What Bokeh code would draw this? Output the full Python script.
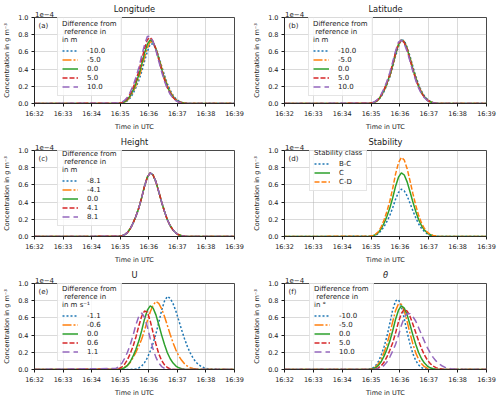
from bokeh.plotting import figure
from bokeh.layouts import gridplot
from bokeh.models import (Legend, LegendItem, Label, FixedTicker, Range1d, PrintfTickFormatter,
                          LinearAxis)
from bokeh.embed import file_html
from bokeh.resources import INLINE

FONT = "DejaVu Sans"

# x axis: minutes after 16:00 UTC
X_TICKS = [32, 33, 34, 35, 36, 37, 38, 39]
X_LABELS = ["16:32", "16:33", "16:34", "16:35", "16:36", "16:37", "16:38", "16:39"]
Y_TICKS = [0.0, 0.2, 0.4, 0.6, 0.8, 1.0]
SCALE_TEXT = "1e−4"

# concentration in 1e-4 g m^-3
TIME_A = [32.0, 34.95, 35.05, 35.15, 35.25, 35.35, 35.45, 35.55, 35.65, 35.75, 35.85,
          35.95, 36.05, 36.15, 36.25, 36.35, 36.45, 36.55, 36.65, 36.75, 36.85,
          36.95, 37.05, 37.15, 37.25, 37.35, 37.45, 39.0]

REF = [0, 0.002, 0.007, 0.02, 0.045, 0.09, 0.155, 0.235, 0.33, 0.45, 0.585, 0.69, 0.74, 0.715,
       0.635, 0.52, 0.40, 0.29, 0.195, 0.125, 0.075, 0.04, 0.02, 0.009, 0.004, 0.001, 0, 0]

LON_M10 = [0, 0.001, 0.004, 0.013, 0.031, 0.064, 0.116, 0.185, 0.267, 0.369, 0.49, 0.603, 0.69,
           0.693, 0.638, 0.546, 0.435, 0.327, 0.23, 0.152, 0.095, 0.055, 0.029, 0.014, 0.006, 0.002, 0, 0]
LON_M5 = [0, 0.001, 0.005, 0.016, 0.038, 0.077, 0.135, 0.21, 0.298, 0.409, 0.537, 0.646, 0.718,
          0.713, 0.637, 0.534, 0.419, 0.309, 0.213, 0.139, 0.085, 0.048, 0.024, 0.012, 0.005, 0.001, 0, 0]
LON_P5 = [0, 0.003, 0.01, 0.027, 0.059, 0.111, 0.182, 0.27, 0.375, 0.504, 0.636, 0.743, 0.768,
          0.723, 0.631, 0.51, 0.388, 0.277, 0.185, 0.117, 0.069, 0.037, 0.018, 0.008, 0.003, 0.001, 0, 0]
LON_P10 = [0, 0.005, 0.014, 0.035, 0.073, 0.131, 0.209, 0.302, 0.416, 0.553, 0.681, 0.778, 0.782,
           0.72, 0.616, 0.491, 0.369, 0.259, 0.171, 0.107, 0.062, 0.032, 0.016, 0.007, 0.002, 0, 0, 0]

LAT_M10 = [0, 0.001, 0.006, 0.017, 0.039, 0.079, 0.139, 0.215, 0.306, 0.42, 0.552, 0.664, 0.738,
           0.733, 0.655, 0.549, 0.43, 0.318, 0.219, 0.143, 0.087, 0.049, 0.025, 0.012, 0.005, 0.001, 0, 0]
LAT_M5 = [0, 0.002, 0.006, 0.019, 0.043, 0.086, 0.149, 0.228, 0.32, 0.437, 0.571, 0.68, 0.74,
          0.722, 0.643, 0.533, 0.412, 0.3, 0.203, 0.131, 0.079, 0.043, 0.022, 0.01, 0.004, 0.001, 0, 0]
LAT_P5 = [0, 0.002, 0.008, 0.022, 0.049, 0.096, 0.162, 0.244, 0.342, 0.465, 0.597, 0.699, 0.74,
          0.708, 0.626, 0.507, 0.388, 0.281, 0.189, 0.12, 0.072, 0.038, 0.019, 0.009, 0.004, 0.001, 0, 0]
LAT_P10 = [0, 0.003, 0.01, 0.026, 0.057, 0.107, 0.175, 0.259, 0.36, 0.484, 0.612, 0.714, 0.738,
           0.695, 0.606, 0.49, 0.373, 0.266, 0.178, 0.112, 0.066, 0.035, 0.017, 0.008, 0.003, 0.001, 0, 0]

HGT = REF

STAB_BC = [0, 0.002, 0.005, 0.015, 0.034, 0.067, 0.115, 0.175, 0.245, 0.334, 0.435, 0.513, 0.55,
           0.531, 0.472, 0.387, 0.298, 0.216, 0.145, 0.093, 0.056, 0.03, 0.015, 0.007, 0.003, 0.001, 0, 0]
STAB_CD = [0, 0.003, 0.008, 0.025, 0.056, 0.112, 0.192, 0.293, 0.41, 0.559, 0.728, 0.857, 0.92,
           0.889, 0.789, 0.647, 0.498, 0.361, 0.243, 0.155, 0.093, 0.05, 0.025, 0.011, 0.005, 0.001, 0, 0]

TIME_E = [32.0, 34.85, 34.95, 35.05, 35.15, 35.25, 35.35, 35.45, 35.55, 35.65, 35.75, 35.85,
          35.95, 36.05, 36.15, 36.25, 36.35, 36.45, 36.55, 36.65, 36.75, 36.85, 36.95,
          37.05, 37.15, 37.25, 37.35, 37.45, 37.55, 37.65, 37.75, 37.85, 37.95, 38.05,
          38.15, 38.25, 39.0]

REF_E = [0, 0, 0.002, 0.007, 0.02, 0.045, 0.09, 0.155, 0.235, 0.33, 0.45, 0.585, 0.69, 0.74, 0.715,
         0.635, 0.52, 0.40, 0.29, 0.195, 0.125, 0.075, 0.04, 0.02, 0.009, 0.004, 0.001, 0,
         0, 0, 0, 0, 0, 0, 0, 0, 0]

U_M11 = [0, 0, 0, 0, 0, 0, 0.001, 0.002, 0.006, 0.018, 0.04, 0.079, 0.137, 0.214, 0.306, 0.415,
         0.548, 0.688, 0.796, 0.85, 0.827, 0.766, 0.677, 0.57, 0.46, 0.358, 0.268, 0.192, 0.132,
         0.086, 0.054, 0.032, 0.018, 0.009, 0.004, 0.002, 0]
U_M06 = [0, 0.002, 0.005, 0.013, 0.027, 0.048, 0.083, 0.138, 0.2, 0.271, 0.352, 0.455, 0.567,
         0.669, 0.747, 0.79, 0.768, 0.706, 0.617, 0.513, 0.408, 0.31, 0.226, 0.158, 0.107, 0.067,
         0.039, 0.021, 0.012, 0.006, 0.002, 0.001, 0, 0, 0, 0, 0]
U_P06 = [0, 0.003, 0.01, 0.027, 0.06, 0.112, 0.184, 0.27, 0.378, 0.506, 0.618, 0.68, 0.667,
         0.565, 0.429, 0.296, 0.182, 0.105, 0.054, 0.023, 0.008, 0.003, 0, 0, 0, 0, 0, 0,
         0, 0, 0, 0, 0, 0, 0, 0, 0]
U_P11 = [0, 0.012, 0.033, 0.069, 0.126, 0.198, 0.285, 0.396, 0.522, 0.617, 0.657, 0.608, 0.496,
         0.36, 0.237, 0.141, 0.075, 0.034, 0.014, 0.005, 0.001, 0, 0, 0, 0, 0, 0, 0, 0, 0, 0, 0,
         0, 0, 0, 0, 0]

TH_M10 = [0, 0.001, 0.005, 0.016, 0.041, 0.09, 0.165, 0.264, 0.385, 0.538, 0.695, 0.798, 0.813,
          0.734, 0.591, 0.434, 0.295, 0.182, 0.104, 0.052, 0.022, 0.009, 0.003, 0, 0, 0, 0, 0,
          0, 0, 0, 0, 0, 0, 0, 0, 0]
TH_M5 = [0, 0.001, 0.003, 0.01, 0.028, 0.063, 0.12, 0.199, 0.295, 0.415, 0.557, 0.686, 0.763,
         0.76, 0.682, 0.557, 0.42, 0.295, 0.191, 0.116, 0.066, 0.033, 0.015, 0.006, 0.002, 0,
         0, 0, 0, 0, 0, 0, 0, 0, 0, 0, 0]
TH_P5 = [0, 0, 0.001, 0.002, 0.006, 0.019, 0.043, 0.085, 0.146, 0.223, 0.312, 0.426, 0.554, 0.652,
         0.70, 0.679, 0.617, 0.526, 0.427, 0.33, 0.242, 0.168, 0.111, 0.069, 0.04, 0.022, 0.011,
         0.005, 0.002, 0, 0, 0, 0, 0, 0, 0, 0]
TH_P10 = [0, 0, 0, 0.001, 0.003, 0.009, 0.023, 0.048, 0.088, 0.145, 0.214, 0.294, 0.396, 0.513,
          0.602, 0.651, 0.647, 0.614, 0.561, 0.483, 0.404, 0.327, 0.255, 0.192, 0.141, 0.1, 0.067,
          0.044, 0.027, 0.016, 0.009, 0.005, 0.002, 0.001, 0, 0, 0]

BLUE, ORANGE, GREEN, RED, PURPLE = "#1f77b4", "#ff7f0e", "#2ca02c", "#d62728", "#9467bd"
STY_DOT = dict(line_color=BLUE, line_dash="2 2")
STY_DASHDOT = dict(line_color=ORANGE, line_dash="9 2 2 2")
STY_SOLID = dict(line_color=GREEN, line_dash="solid")
STY_DASH = dict(line_color=RED, line_dash="5 2")
STY_LONG = dict(line_color=PURPLE, line_dash="7 4")
FIVE = [STY_DOT, STY_DASHDOT, STY_SOLID, STY_DASH, STY_LONG]

TITLE_M = "Difference from\n reference in\nin m"
DARK = "#1a1a1a"


def panel(title, letter, leg_title, time, series, labels, styles, right, top, bottom,
          leg_x, leg_y, italic=False):
    p = figure(width=250, height=133, x_range=Range1d(32, 39), y_range=Range1d(0, 1.0),
               output_backend="svg", toolbar_location=None, title=None,
               min_border_left=32, min_border_right=right, min_border_top=top,
               min_border_bottom=bottom)
    p.outline_line_color = DARK
    p.outline_line_width = 0.8
    p.grid.grid_line_color = "#b0b0b0"
    p.grid.grid_line_alpha = 0.6
    p.grid.grid_line_width = 0.8
    p.xaxis.ticker = FixedTicker(ticks=X_TICKS)
    p.xaxis.major_label_overrides = {t: l for t, l in zip(X_TICKS, X_LABELS)}
    p.yaxis.ticker = FixedTicker(ticks=Y_TICKS)
    p.yaxis.formatter = PrintfTickFormatter(format="%.1f")
    p.xaxis.axis_label = "Time in UTC"
    p.yaxis.axis_label = "Concentration in g m⁻³"
    for ax in (p.xaxis[0], p.yaxis[0]):
        ax.axis_line_color = DARK
        ax.axis_line_width = 0.8
        ax.major_tick_line_color = DARK
        ax.major_tick_out = 3
        ax.major_tick_in = 0
        ax.minor_tick_out = 0
        ax.minor_tick_in = 0
        ax.major_label_text_font = FONT
        ax.major_label_text_font_size = "6.5px"
        ax.major_label_text_color = DARK
        ax.major_label_standoff = 3
        ax.axis_label_text_font = FONT
        ax.axis_label_text_font_size = "6.5px"
        ax.axis_label_text_font_style = "normal"
        ax.axis_label_text_color = DARK
    p.xaxis.axis_label_standoff = 2
    p.yaxis.axis_label_standoff = 4

    # top side: panel title and the "1e-4" multiplier
    top_ax = LinearAxis(ticker=FixedTicker(ticks=[32.35]),
                        major_label_overrides={32.35: SCALE_TEXT},
                        axis_label=title, axis_line_color=None,
                        major_tick_out=0, major_tick_in=0, minor_tick_out=0, minor_tick_in=0,
                        major_label_standoff=1, major_label_text_font=FONT,
                        major_label_text_font_size="7px", major_label_text_color=DARK,
                        axis_label_standoff=-6, axis_label_text_font=FONT,
                        axis_label_text_font_size="8.3px", axis_label_text_color=DARK,
                        axis_label_text_font_style="italic" if italic else "normal")
    p.add_layout(top_ax, "above")

    items = []
    for vals, lab, sty in zip(series, labels, styles):
        r = p.line(time, vals, line_width=1.5, **sty)
        items.append(LegendItem(label=lab, renderers=[r]))
    leg = Legend(items=items, location=(leg_x, leg_y), title=leg_title,
                 title_text_font=FONT, title_text_font_size="7px", title_text_font_style="normal",
                 title_text_color=DARK, title_standoff=2,
                 label_text_font=FONT, label_text_font_size="7px", label_text_color=DARK,
                 label_height=9, glyph_height=9, glyph_width=16, spacing=0, padding=4,
                 label_standoff=9, margin=0, border_line_color="#cccccc", border_line_width=0.8,
                 background_fill_alpha=0.8)
    p.add_layout(leg)
    p.add_layout(Label(x=32, y=1.0, text=letter, text_font=FONT, text_font_size="7px",
                       text_baseline="top", x_offset=4, y_offset=-4, text_color=DARK))
    return p


LAB_LON = ["-10.0", "-5.0", "0.0", "5.0", "10.0"]
LAB_HGT = ["-8.1", "-4.1", "0.0", "4.1", "8.1"]
LAB_U = ["-1.1", "-0.6", "0.0", "0.6", "1.1"]
LAB_STAB = ["B-C", "C", "C-D"]

pa = panel("Longitude", "(a)", TITLE_M, TIME_A, [LON_M10, LON_M5, REF, LON_P5, LON_P10], LAB_LON,
           FIVE, 16, 15, 26, 23, 7)
pb = panel("Latitude", "(b)", TITLE_M, TIME_A, [LAT_M10, LAT_M5, REF, LAT_P5, LAT_P10], LAB_LON,
           FIVE, 14, 15, 26, 24, 7)
pc = panel("Height", "(c)", TITLE_M, TIME_A, [HGT, HGT, HGT, HGT, HGT], LAB_HGT,
           FIVE, 16, 15, 25, 23, 10)
pd = panel("Stability", "(d)", "Stability class", TIME_A, [STAB_BC, REF, STAB_CD], LAB_STAB,
           [STY_DOT, STY_SOLID, dict(line_color=ORANGE, line_dash="5 2")], 14, 15, 25, 25, 45)
pe = panel("U", "(e)", "Difference from\n reference in\nin m s⁻¹", TIME_E,
           [U_M11, U_M06, REF_E, U_P06, U_P11], LAB_U, FIVE, 16, 16, 25, 23, 8)
pf = panel("θ", "(f)", "Difference from\n reference in\nin °", TIME_E,
           [TH_M10, TH_M5, REF_E, TH_P5, TH_P10], LAB_LON, FIVE, 14, 16, 25, 25, 8, italic=True)

grid = gridplot([[pa, pb], [pc, pd], [pe, pf]], toolbar_location=None)
open("out.html", "w").write(file_html(grid, INLINE))
